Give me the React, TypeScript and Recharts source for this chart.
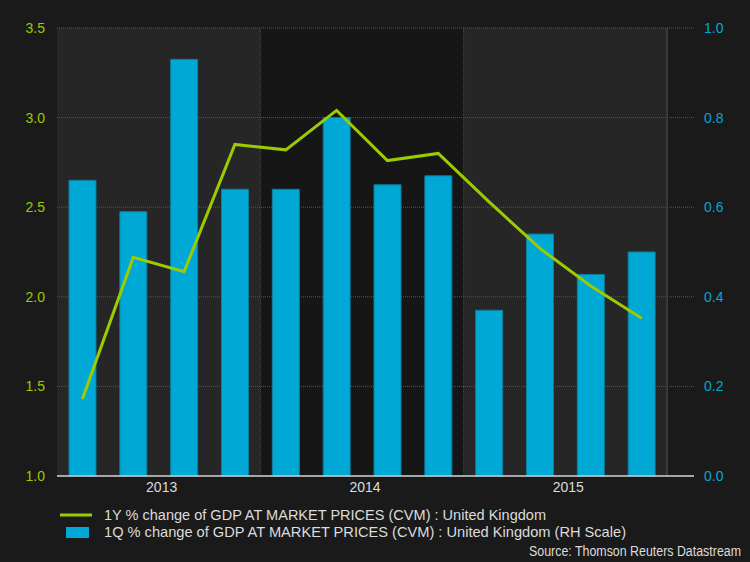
import {
  Bar,
  CartesianGrid,
  ComposedChart,
  Line,
  ReferenceArea,
  ReferenceLine,
  XAxis,
  YAxis,
} from "recharts";

const quarters = [
  "2013 Q1", "2013 Q2", "2013 Q3", "2013 Q4",
  "2014 Q1", "2014 Q2", "2014 Q3", "2014 Q4",
  "2015 Q1", "2015 Q2", "2015 Q3", "2015 Q4",
];
// 1Y % change (left scale)
const yoyChange = [1.43, 2.22, 2.14, 2.85, 2.82, 3.04, 2.76, 2.8, 2.53, 2.27, 2.06, 1.88];
// 1Q % change (right scale)
const qoqChange = [0.66, 0.59, 0.93, 0.64, 0.64, 0.8, 0.65, 0.67, 0.37, 0.54, 0.45, 0.5];
const years = ["2013", "2014", "2015"];
const leftTicks = [1.0, 1.5, 2.0, 2.5, 3.0, 3.5];
const rightTicks = [0.0, 0.2, 0.4, 0.6, 0.8, 1.0];

const seriesNames = [
  "1Y % change of GDP AT MARKET PRICES (CVM) : United Kingdom",
  "1Q % change of GDP AT MARKET PRICES (CVM) : United Kingdom (RH Scale)",
];
const sourceText = "Source: Thomson Reuters Datastream";

const GREEN = "#9bcb00";
const CYAN = "#00a8d5";
const FONT = "'Liberation Sans', Arial, sans-serif";

const data = quarters.map((q, i) => ({
  quarter: q,
  yoy: yoyChange[i],
  qoq: qoqChange[i],
}));

function YearTick(props: any) {
  const { x, y, payload } = props;
  const off = payload?.offset ?? 25;
  return (
    <text
      x={x + off + 3}
      y={y}
      dy="0.71em"
      textAnchor="middle"
      fill="#dcdcdc"
      fontSize={14}
      fontFamily={FONT}
    >
      {String(payload.value).slice(0, 4)}
    </text>
  );
}

export default function App() {
  return (
    <div
      style={{
        position: "fixed",
        left: 0,
        top: 0,
        width: 750,
        height: 562,
        background: "#1a1a1a",
        fontFamily: FONT,
      }}
    >
      <ComposedChart
        width={750}
        height={562}
        data={data}
        margin={{ top: 28, right: 0, bottom: 0, left: 0 }}
      >
        {years.map((yr, i) => (
          <ReferenceArea
            key={yr}
            yAxisId="left"
            x1={`${yr} Q1`}
            x2={`${yr} Q4`}
            fill={i % 2 === 0 ? "#262626" : "#161616"}
            fillOpacity={1}
            stroke="none"
            ifOverflow="visible"
            zIndex={-200}
          />
        ))}
        <CartesianGrid
          yAxisId="left"
          vertical={false}
          stroke="#565656"
          strokeDasharray="1 1"
        />
        {years.slice(1).map((yr) => (
          <ReferenceLine
            key={yr}
            yAxisId="left"
            x={`${yr} Q1`}
            position="start"
            stroke="#505050"
            strokeDasharray="1 1"
            ifOverflow="visible"
          />
        ))}
        <ReferenceLine
          yAxisId="left"
          x="2015 Q4"
          position="end"
          stroke="#3a3a3a"
          strokeWidth={2}
          ifOverflow="visible"
        />
        <XAxis
          dataKey="quarter"
          height={86}
          padding={{ left: 0, right: 27 }}
          axisLine={{ stroke: "#d0d0d0", strokeWidth: 1.5 }}
          tickLine={false}
          tickMargin={0}
          ticks={years.map((y) => `${y} Q2`)}
          tick={<YearTick />}
          interval={0}
        />
        <YAxis
          yAxisId="left"
          orientation="left"
          width={57}
          domain={[1, 3.5]}
          ticks={leftTicks}
          tickFormatter={(v: number) => v.toFixed(1)}
          axisLine={false}
          tickLine={false}
          tickMargin={6}
          tick={{ fill: GREEN, fontSize: 14, fontFamily: FONT }}
        />
        <YAxis
          yAxisId="right"
          orientation="right"
          width={56}
          domain={[0, 1]}
          ticks={rightTicks}
          tickFormatter={(v: number) => v.toFixed(1)}
          axisLine={false}
          tickLine={false}
          tickMargin={4}
          tick={{ fill: CYAN, fontSize: 14, fontFamily: FONT }}
        />
        <Bar
          yAxisId="right"
          dataKey="qoq"
          barSize={27}
          fill={CYAN}
          stroke="#0f7c9c"
          strokeWidth={1}
          isAnimationActive={false}
        />
        <Line
          yAxisId="left"
          dataKey="yoy"
          type="linear"
          stroke={GREEN}
          strokeWidth={3}
          dot={false}
          activeDot={false}
          isAnimationActive={false}
        />
      </ComposedChart>
      <svg
        width={750}
        height={70}
        style={{ position: "absolute", left: 0, top: 492 }}
      >
        <line x1={60} x2={92} y1={23} y2={23} stroke={GREEN} strokeWidth={3} />
        <text
          x={104}
          y={23}
          dy="0.35em"
          fill="#dcdcdc"
          fontSize={15}
          textLength={442}
          lengthAdjust="spacingAndGlyphs"
        >
          {seriesNames[0]}
        </text>
        <rect x={66} y={35} width={23} height={11} fill={CYAN} />
        <text
          x={104}
          y={40}
          dy="0.35em"
          fill="#dcdcdc"
          fontSize={15}
          textLength={522}
          lengthAdjust="spacingAndGlyphs"
        >
          {seriesNames[1]}
        </text>
        <text
          x={741}
          y={59}
          dy="0.35em"
          textAnchor="end"
          fill="#dcdcdc"
          fontSize={14}
          textLength={212}
          lengthAdjust="spacingAndGlyphs"
        >
          {sourceText}
        </text>
      </svg>
    </div>
  );
}
